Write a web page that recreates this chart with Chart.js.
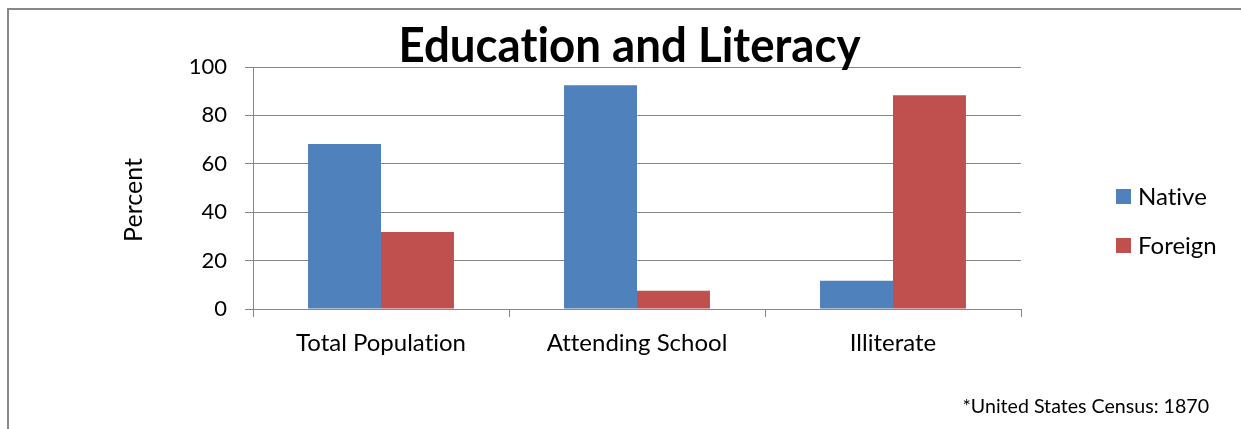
<!DOCTYPE html>
<html>
<head>
<meta charset="utf-8">
<script src="https://cdn.jsdelivr.net/npm/chart.js@4.4.1/dist/chart.umd.min.js"></script>
<style>
html, body { margin: 0; padding: 0; background: #fff; }
#chart-container { width: 1241px; height: 429px; }
</style>
</head>
<body>
<div id="chart-container"><canvas id="myChart" width="1241" height="429"></canvas></div>
<script>
// census figures, percent of each group
const categories = ["Total Population", "Attending School", "Illiterate"];
const nativeValues = [68.2, 92.5, 11.7];
const foreignValues = [31.8, 7.5, 88.3];
const yTicks = [0, 20, 40, 60, 80, 100];

const chartTitle = "Education and Literacy";
const yLabel = "Percent";
const footnote = "*United States Census: 1870";

const gray = "#868686";
const font = "Lato, 'Open Sans', sans-serif";

// frame, title, axis label, legend and footnote drawn straight on the canvas
const decorations = {
    id: "decorations",
    beforeDraw: (chart) => {
        const ctx = chart.ctx;
        // no "ti" ligatures anywhere, ticks included
        ctx.textRendering = "optimizeSpeed";
        ctx.save();
        ctx.fillStyle = "#fff";
        ctx.fillRect(0, 0, chart.width, chart.height);
        ctx.strokeStyle = "#888";
        ctx.lineWidth = 2;
        ctx.beginPath();
        ctx.moveTo(8, chart.height);
        ctx.lineTo(8, 9);
        ctx.lineTo(chart.width, 9);
        ctx.stroke();
        ctx.restore();
    },
    afterDraw: (chart) => {
        const ctx = chart.ctx;
        ctx.save();
        ctx.fillStyle = "#000";

        // title, squeezed a little to the width of the original lettering
        ctx.font = `bold 47px ${font}`;
        ctx.textAlign = "center";
        ctx.textBaseline = "alphabetic";
        let w = ctx.measureText(chartTitle).width;
        let sx = Math.min(1, 462 / w);
        ctx.save();
        ctx.translate(629.5, 62);
        ctx.scale(sx, 1);
        ctx.fillText(chartTitle, 0, 0);
        ctx.restore();

        // y axis label
        ctx.save();
        ctx.font = `25px ${font}`;
        ctx.translate(134, 200);
        ctx.rotate(-Math.PI / 2);
        ctx.textBaseline = "middle";
        ctx.fillText(yLabel, 0, 0);
        ctx.restore();

        // legend
        ctx.font = `24px ${font}`;
        ctx.textAlign = "left";
        chart.data.datasets.forEach((ds, i) => {
            let y = 189 + i * 49;
            ctx.fillStyle = ds.backgroundColor;
            ctx.fillRect(1116, y, 15, 15);
            ctx.fillStyle = "#000";
            ctx.fillText(ds.label, 1138, y + 16);
        });

        // source note
        ctx.font = `19.6px ${font}`;
        ctx.textAlign = "right";
        ctx.fillText(footnote, 1209, 413);
        ctx.restore();
    },
};

const data = {
    labels: categories,
    datasets: [
        {
            label: "Native",
            backgroundColor: "#4F81BD",
            data: nativeValues,
        },
        {
            label: "Foreign",
            backgroundColor: "#C0504D",
            data: foreignValues,
        },
    ],
};

const config = {
    type: "bar",
    data: data,
    options: {
        responsive: false,
        animation: false,
        devicePixelRatio: 1,
        layout: { padding: { left: 0, top: 67, right: 220, bottom: 0 } },
        datasets: {
            bar: { categoryPercentage: 0.57, barPercentage: 1.0 },
        },
        plugins: {
            legend: { display: false },
            title: { display: false },
            tooltip: { enabled: false },
        },
        scales: {
            x: {
                offset: true,
                grid: {
                    offset: true,
                    drawOnChartArea: false,
                    color: gray,
                    tickLength: 8,
                },
                border: { color: gray, width: 1 },
                ticks: {
                    color: "#000",
                    font: { family: font, size: 24 },
                    padding: 12,
                    maxRotation: 0,
                },
                afterFit: (scale) => {
                    scale.height = 120;
                },
            },
            y: {
                min: 0,
                max: 100,
                afterBuildTicks: (scale) => {
                    scale.ticks = yTicks.map((v) => ({ value: v }));
                },
                grid: { color: gray, tickLength: 8 },
                border: { color: gray, width: 1 },
                ticks: {
                    color: "#000",
                    font: { family: font, size: 22 },
                    padding: 18,
                },
                afterFit: (scale) => {
                    scale.width = 253;
                },
            },
        },
    },
    plugins: [decorations],
};

const myChart = new Chart(document.getElementById("myChart"), config);
</script>
</body>
</html>
